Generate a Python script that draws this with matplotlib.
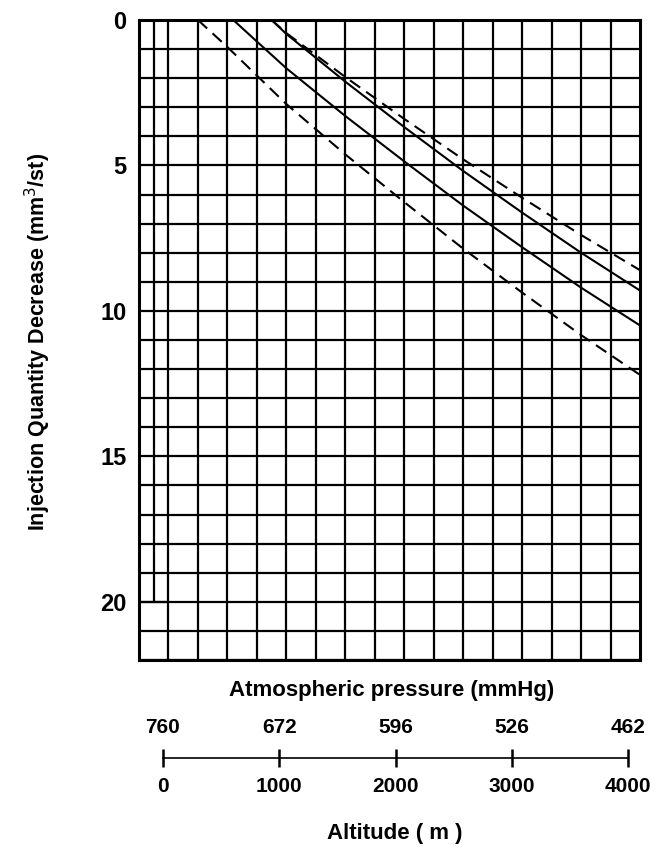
"""Injection quantity decrease vs altitude / atmospheric pressure chart."""
import matplotlib

matplotlib.use("Agg")
import matplotlib.pyplot as plt

plt.rcParams["font.family"] = ["Liberation Sans", "DejaVu Sans"]

# altitude scale below the grid
ALTITUDE_TICKS = [0, 1000, 2000, 3000, 4000]
PRESSURE_LABELS = ["760", "672", "596", "526", "462"]

# injection quantity decrease axis (mm3/st)
Y_LABEL_TICKS = [0, 5, 10, 15, 20]

# curves: altitude (m) -> decrease (mm3/st)
upper_dashed_alt = [875, 1000, 1500, 2000, 2500, 3000, 3500, 4000]
upper_dashed_dec = [0.0, 0.45, 1.96, 3.40, 4.79, 6.11, 7.39, 8.6]

upper_solid_alt = [875, 1000, 1500, 2000, 2500, 3000, 3500, 4000]
upper_solid_dec = [0.0, 0.48, 2.12, 3.68, 5.19, 6.62, 8.0, 9.3]

lower_solid_alt = [550, 750, 1000, 1500, 2000, 2500, 3000, 3500, 4000]
lower_solid_dec = [0.0, 0.74, 1.66, 3.30, 4.86, 6.38, 7.81, 9.20, 10.5]

lower_dashed_alt = [250, 500, 750, 1000, 1500, 2000, 2500, 3000, 3500, 4000]
lower_dashed_dec = [0.0, 0.93, 1.91, 2.89, 4.62, 6.26, 7.86, 9.37, 10.83, 12.2]

W, H = 659, 847


def draw_grid(ax):
    """Black chart-paper grid, one cell = 250 m x 1 mm3/st."""
    ax.set_xlim(-250, 4000)
    ax.set_ylim(22, 0)
    ax.set_xticks(range(0, 4000, 250))
    ax.set_xticklabels([])
    ax.set_yticks(range(0, 23))
    ax.set_yticklabels([str(v) if v in Y_LABEL_TICKS else "" for v in range(0, 23)])
    ax.tick_params(length=0, pad=9, labelsize=17)
    for label in ax.get_yticklabels():
        label.set_fontweight("bold")
    ax.grid(True, color="black", linewidth=1.6)
    ax.set_axisbelow(True)
    # short extra line in the left margin column
    ax.vlines(-125, 0, 20, color="black", linewidth=1.6)
    ax.hlines(20, -250, 0, color="black", linewidth=1.6)
    for spine in ax.spines.values():
        spine.set_linewidth(2.2)


def draw_curves(ax):
    solid = dict(color="black", linewidth=1.5, solid_capstyle="butt")
    dashed = dict(color="black", linewidth=1.5, linestyle=(0, (6, 3.5)))
    ax.plot(upper_dashed_alt, upper_dashed_dec, **dashed)
    ax.plot(upper_solid_alt, upper_solid_dec, **solid)
    ax.plot(lower_solid_alt, lower_solid_dec, **solid)
    ax.plot(lower_dashed_alt, lower_dashed_dec, **dashed)


def draw_scale(fig):
    """Pressure / altitude conversion scale under the chart."""
    sc = fig.add_axes([163 / W, 1 - 816 / H, (628 - 163) / W, 116 / H])
    sc.set_xlim(ALTITUDE_TICKS[0], ALTITUDE_TICKS[-1])
    sc.set_ylim(-1, 1)
    sc.axis("off")
    sc.plot([ALTITUDE_TICKS[0], ALTITUDE_TICKS[-1]], [0, 0], color="black",
            linewidth=1.2, clip_on=False)
    sc.plot(ALTITUDE_TICKS, [0] * len(ALTITUDE_TICKS), linestyle="none",
            marker="|", markersize=13, markeredgewidth=1.8, color="black",
            clip_on=False)
    for alt, pres in zip(ALTITUDE_TICKS, PRESSURE_LABELS):
        sc.text(alt, 0.52, pres, ha="center", va="center", fontsize=15,
                fontweight="bold")
        sc.text(alt, -0.5, str(alt), ha="center", va="center", fontsize=15,
                fontweight="bold")


fig = plt.figure(figsize=(W / 100, H / 100), dpi=100)
ax = fig.add_axes([139 / W, 1 - 660 / H, 501 / W, 640 / H])
draw_grid(ax)
draw_curves(ax)
draw_scale(fig)

fig.text(38 / W, 1 - 342 / H, "Injection Quantity Decrease (mm$^3$/st)",
         rotation=90, ha="center", va="center", fontsize=15.5, fontweight="bold")
fig.text(392 / W, 1 - 690 / H, "Atmospheric pressure (mmHg)",
         ha="center", va="center", fontsize=16, fontweight="bold")
fig.text(395 / W, 1 - 833 / H, "Altitude ( m )",
         ha="center", va="center", fontsize=16, fontweight="bold")

fig.savefig("out.png", dpi=100)
